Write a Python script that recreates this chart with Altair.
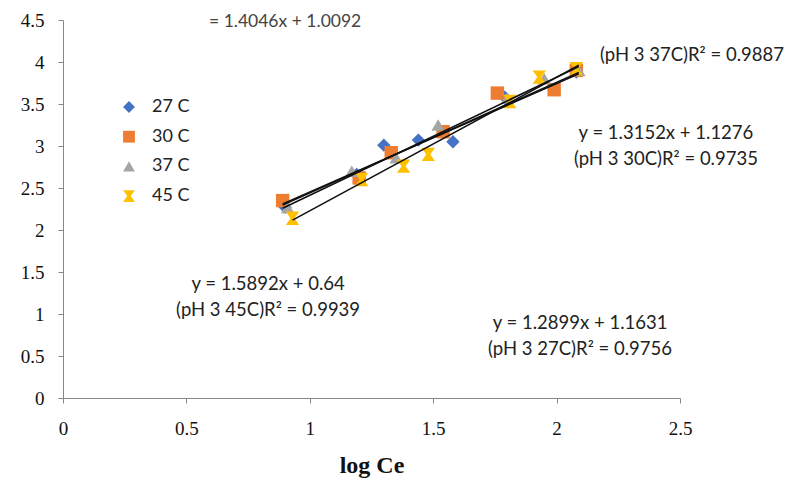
import altair as alt
import pandas as pd

# ---- data ----
series = ["27 C", "30 C", "37 C", "45 C"]
colors = ["#4472C4", "#ED7D31", "#A5A5A5", "#FFC000"]
hourglass = "M-1,-1H1L0.3,0L1,1H-1L-0.3,0Z"
shapes = ["diamond", "square", "triangle-up", hourglass]

x_27 = [0.90, 1.19, 1.30, 1.44, 1.58, 1.79, 2.08]
y_27 = [2.27, 2.66, 3.01, 3.07, 3.05, 3.58, 3.88]
x_30 = [0.89, 1.20, 1.33, 1.54, 1.76, 1.99, 2.08]
y_30 = [2.35, 2.62, 2.92, 3.17, 3.63, 3.67, 3.90]
x_37 = [0.91, 1.17, 1.35, 1.52, 1.80, 1.95, 2.09]
y_37 = [2.27, 2.70, 2.86, 3.25, 3.57, 3.80, 3.90]
x_45 = [0.93, 1.21, 1.38, 1.48, 1.81, 1.93, 2.08]
y_45 = [2.14, 2.60, 2.76, 2.90, 3.53, 3.82, 3.92]

slopes = [1.2899, 1.3152, 1.4046, 1.5892]
intercepts = [1.1631, 1.1276, 1.0092, 0.64]
fit_start = [0.89, 0.89, 0.89, 0.93]
fit_end = [2.09, 2.09, 2.09, 2.09]

x_ticks = [0, 0.5, 1, 1.5, 2, 2.5]
y_ticks = [0, 0.5, 1, 1.5, 2, 2.5, 3, 3.5, 4, 4.5]

ann_text = ["= 1.4046x + 1.0092", "(pH 3 37C)R\u00b2 = 0.9887",
            "y = 1.3152x + 1.1276", "(pH 3 30C)R\u00b2 = 0.9735",
            "y = 1.5892x + 0.64", "(pH 3 45C)R\u00b2 = 0.9939",
            "y = 1.2899x + 1.1631", "(pH 3 27C)R\u00b2 = 0.9756"]
ann_x = [0.90, 2.176, 2.443, 2.443, 0.831, 0.831, 2.095, 2.095]
ann_y = [4.48, 4.08, 3.155, 2.845, 1.357, 1.045, 0.893, 0.583]

# ---- tables ----
pts = []
for s, xs_, ys_ in zip(series, [x_27, x_30, x_37, x_45], [y_27, y_30, y_37, y_45]):
    for a, b in zip(xs_, ys_):
        pts.append({"series": s, "x": a, "y": b, "order": series.index(s)})
pts = pd.DataFrame(pts)

fits = []
for s, m, c, a, b in zip(series, slopes, intercepts, fit_start, fit_end):
    fits.append({"series": s, "x": a, "m": m, "c": c})
    fits.append({"series": s, "x": b, "m": m, "c": c})
fits = pd.DataFrame(fits)

ann = pd.DataFrame({"t": ann_text, "x": ann_x, "y": ann_y,
                    "kind": ["small", "left"] + ["center"] * 6})

xs = alt.Scale(domain=[0, 2.5], nice=False, zero=False)
ys = alt.Scale(domain=[0, 4.5], nice=False, zero=False)

x_axis = alt.Axis(values=x_ticks, format="~g", title="log Ce", labelPadding=16,
                  titlePadding=15)
y_axis = alt.Axis(values=y_ticks, format="~g", title=None, labelPadding=14)

points = alt.Chart(pts).mark_point(filled=True, size=180, opacity=1).encode(
    x=alt.X("x:Q", scale=xs, axis=x_axis),
    y=alt.Y("y:Q", scale=ys, axis=y_axis),
    color=alt.Color("series:N", scale=alt.Scale(domain=series, range=colors),
                    legend=alt.Legend(orient="none", legendX=57, legendY=78,
                                      title=None, labelFont="Lato", labelFontSize=18,
                                      labelColor="#222", symbolSize=140,
                                      rowPadding=11.7, labelOffset=14,
                                      symbolStrokeWidth=0)),
    shape=alt.Shape("series:N", scale=alt.Scale(domain=series, range=shapes)),
    order=alt.Order("order:Q"),
)

lines = alt.Chart(fits).transform_calculate(
    yy="datum.m * datum.x + datum.c"
).mark_line(color="#111", strokeWidth=1.6).encode(
    x=alt.X("x:Q", scale=xs, axis=x_axis),
    y=alt.Y("yy:Q", scale=ys, axis=y_axis),
    detail="series:N",
)

texts_center = alt.Chart(ann[ann["kind"] == "center"]).mark_text(
    font="Lato", fontSize=18.5, color="#222", baseline="middle", align="center"
).encode(x=alt.X("x:Q", scale=xs), y=alt.Y("y:Q", scale=ys), text="t:N")

texts_left = alt.Chart(ann[ann["kind"] == "left"]).mark_text(
    font="Lato", fontSize=18.5, color="#222", baseline="middle", align="left"
).encode(x=alt.X("x:Q", scale=xs), y=alt.Y("y:Q", scale=ys), text="t:N")

texts_small = alt.Chart(ann[ann["kind"] == "small"]).mark_text(
    font="Lato", fontSize=17.5, color="#444", baseline="middle", align="center"
).encode(x=alt.X("x:Q", scale=xs), y=alt.Y("y:Q", scale=ys), text="t:N")

chart = alt.layer(points, lines, texts_center, texts_left, texts_small).properties(
    width=617, height=378,
    autosize=alt.AutoSizeParams(type="none"),
    padding={"left": 63, "top": 20, "right": 128, "bottom": 81},
    background="white",
).configure_view(stroke=None).configure_axis(
    grid=False, tickSize=5, labelFont="Liberation Serif", labelFontSize=19,
    labelColor="#111", domainColor="#888", tickColor="#888", labelFlush=False,
    titleFont="Liberation Serif", titleFontSize=24, titleFontWeight="bold",
    titleColor="#111",
)

chart.save("out.html", embed_options={"renderer": "svg", "actions": False})
